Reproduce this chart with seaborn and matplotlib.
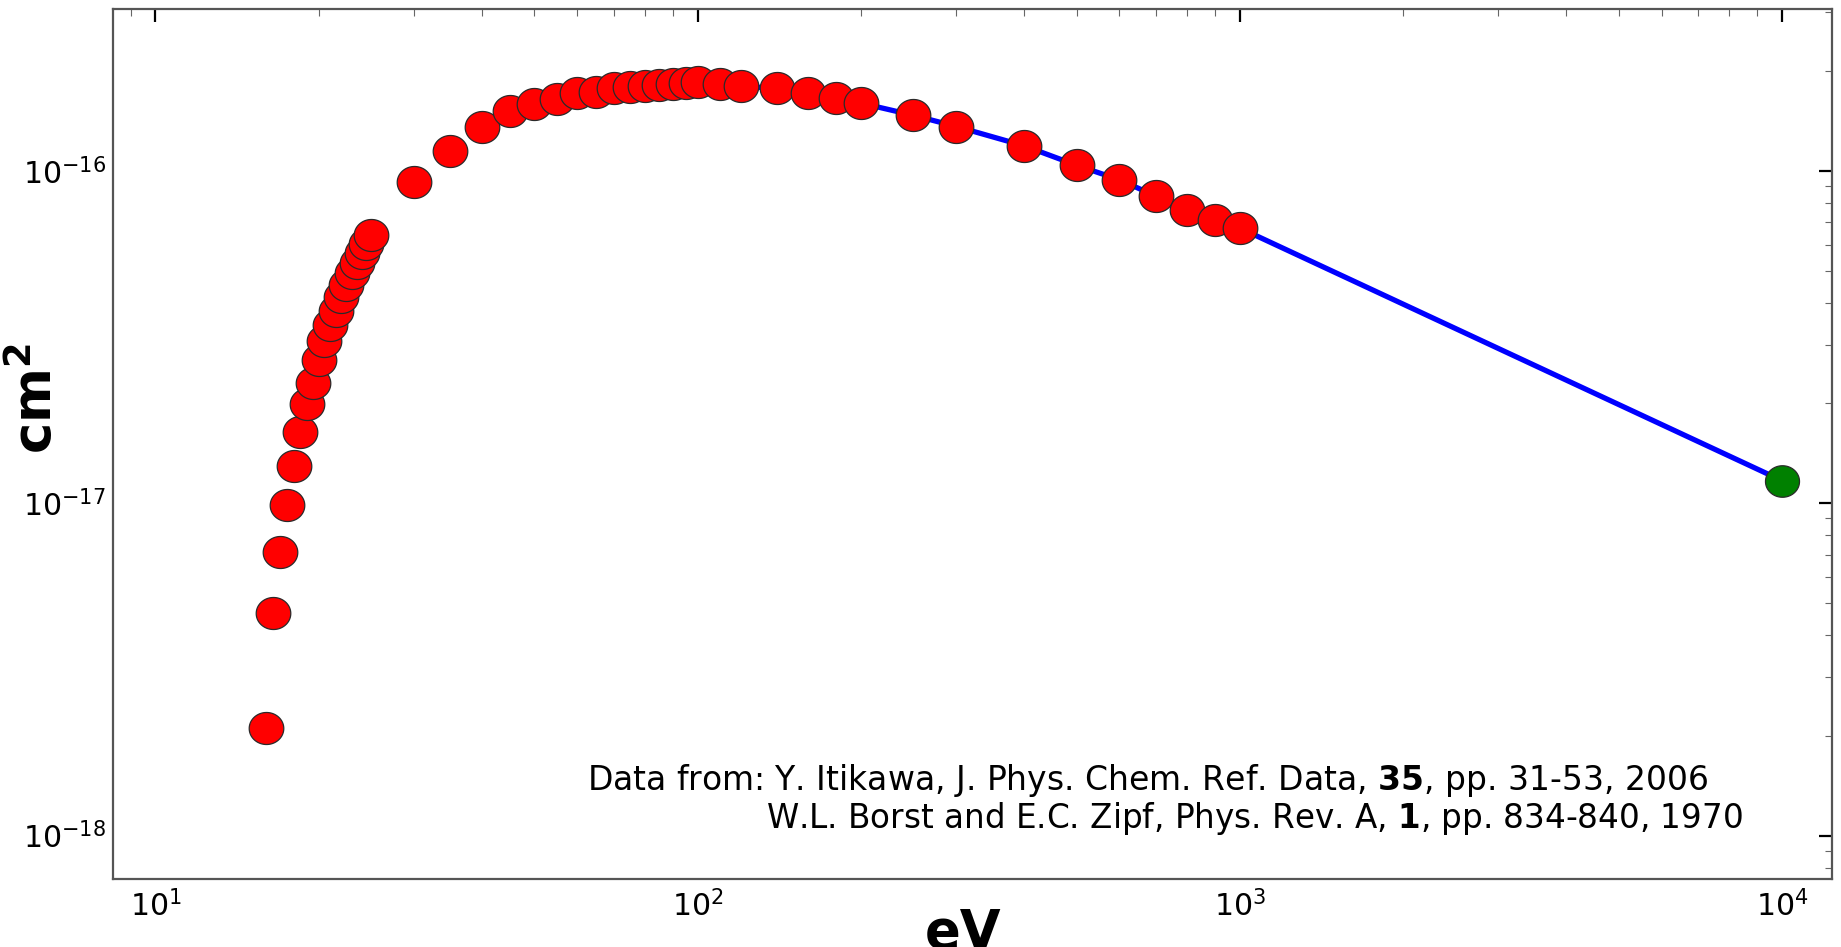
import numpy as np
import pandas as pd
import matplotlib
matplotlib.use("Agg")
import matplotlib.pyplot as plt
from matplotlib.path import Path
import seaborn as sns

# ---- data (eV, cross section in cm^2) ----
energy_ev = [16.0, 16.5, 17.0, 17.5, 18.0, 18.5, 19.0, 19.5, 20.0, 20.5,
             21.0, 21.5, 22.0, 22.5, 23.0, 23.5, 24.0, 24.5, 25.0,
             30, 35, 40, 45, 50, 55, 60, 65, 70, 75, 80, 85, 90, 95, 100,
             110, 120, 140, 160, 180, 200, 250, 300, 400, 500, 600, 700,
             800, 900, 1000]
sigma_1e16 = [0.0211, 0.0466, 0.0713, 0.0985, 0.129, 0.164, 0.199, 0.230,
              0.270, 0.308, 0.344, 0.380, 0.418, 0.455, 0.492, 0.528,
              0.565, 0.603, 0.640,
              0.925, 1.15, 1.36, 1.51, 1.59, 1.65, 1.71, 1.73, 1.77, 1.79,
              1.80, 1.81, 1.82, 1.84, 1.85,
              1.82, 1.80, 1.77, 1.71, 1.66, 1.60, 1.47, 1.36, 1.19, 1.04,
              0.94, 0.84, 0.76, 0.713, 0.673]
borst_ev = [10000]
borst_1e16 = [0.117]
line_ev = [100, 110, 120, 140, 160, 180, 200, 250, 300, 400, 500, 600, 700,
           800, 900, 1000, 10000]
line_1e16 = [1.85, 1.82, 1.80, 1.77, 1.71, 1.66, 1.60, 1.47, 1.36, 1.19,
             1.04, 0.94, 0.84, 0.76, 0.713, 0.673, 0.117]

df_main = pd.DataFrame({"eV": energy_ev, "cs": np.array(sigma_1e16) * 1e-16})
df_borst = pd.DataFrame({"eV": borst_ev, "cs": np.array(borst_1e16) * 1e-16})
df_line = pd.DataFrame({"eV": line_ev, "cs": np.array(line_1e16) * 1e-16})

sns.set_style("white")
plt.rcParams["font.family"] = ["DejaVu Sans"]
plt.rcParams["mathtext.fontset"] = "dejavusans"
plt.rcParams["axes.unicode_minus"] = False
plt.rcParams["text.color"] = "black"
plt.rcParams["axes.labelcolor"] = "black"
plt.rcParams["xtick.color"] = "black"
plt.rcParams["ytick.color"] = "black"

W, H = 1841, 947
fig = plt.figure(figsize=(W / 100, H / 100), dpi=100)
ax = fig.add_axes([113 / W, 1 - 879 / H, (1832 - 113) / W, (879 - 9) / H])
ax.set_xscale("log")
ax.set_yscale("log")

# ellipse marker (slightly wider than tall)
t = np.linspace(0, 2 * np.pi, 80)
ell = Path(np.column_stack([1.08 * np.cos(t), np.sin(t)]), closed=True)

sns.lineplot(data=df_line, x="eV", y="cs", ax=ax, color="#0000ff",
             linewidth=3.8, sort=False, estimator=None, zorder=2)
sns.scatterplot(data=df_main, x="eV", y="cs", ax=ax, marker=ell, s=620,
                color="#ff0000", edgecolor="#2a2a2a", linewidth=0.9, zorder=3)
sns.scatterplot(data=df_borst, x="eV", y="cs", ax=ax, marker=ell, s=600,
                color="#008000", edgecolor="#2a2a2a", linewidth=0.9, zorder=3)

ax.set_xlim(8.35, 12370)
ax.set_ylim(7.4e-19, 3.07e-16)

for sp in ax.spines.values():
    sp.set_color("#555555")
    sp.set_linewidth(1.6)

ax.tick_params(axis="both", which="major", direction="in", length=9.5,
               width=1.6, color="black", labelcolor="black", labelsize=21.5,
               top=True, right=True)
ax.tick_params(axis="both", which="minor", direction="in", length=5,
               width=0.8, color="#666666", top=True, right=True)
ax.tick_params(axis="x", which="major", pad=8)
ax.tick_params(axis="y", which="major", pad=5)

ax.set_xlabel("eV", fontsize=38, fontweight="bold", color="black")
ax.set_ylabel("cm$^\\mathbf{2}$", fontsize=38, fontweight="bold", color="black")
ax.xaxis.set_label_coords(0.4948, -0.032)
ax.yaxis.set_label_coords(-0.029, 0.552)

ax.text(0.2757, 0.1023,
        "Data from: Y. Itikawa, J. Phys. Chem. Ref. Data, $\\mathbf{35}$, pp. 31-53, 2006",
        transform=ax.transAxes, fontsize=23.8, ha="left", va="baseline",
        color="black")
ax.text(0.3799, 0.0586,
        "W.L. Borst and E.C. Zipf, Phys. Rev. A, $\\mathbf{1}$, pp. 834-840, 1970",
        transform=ax.transAxes, fontsize=23.5, ha="left", va="baseline",
        color="black")

fig.savefig("out.png", dpi=100)
